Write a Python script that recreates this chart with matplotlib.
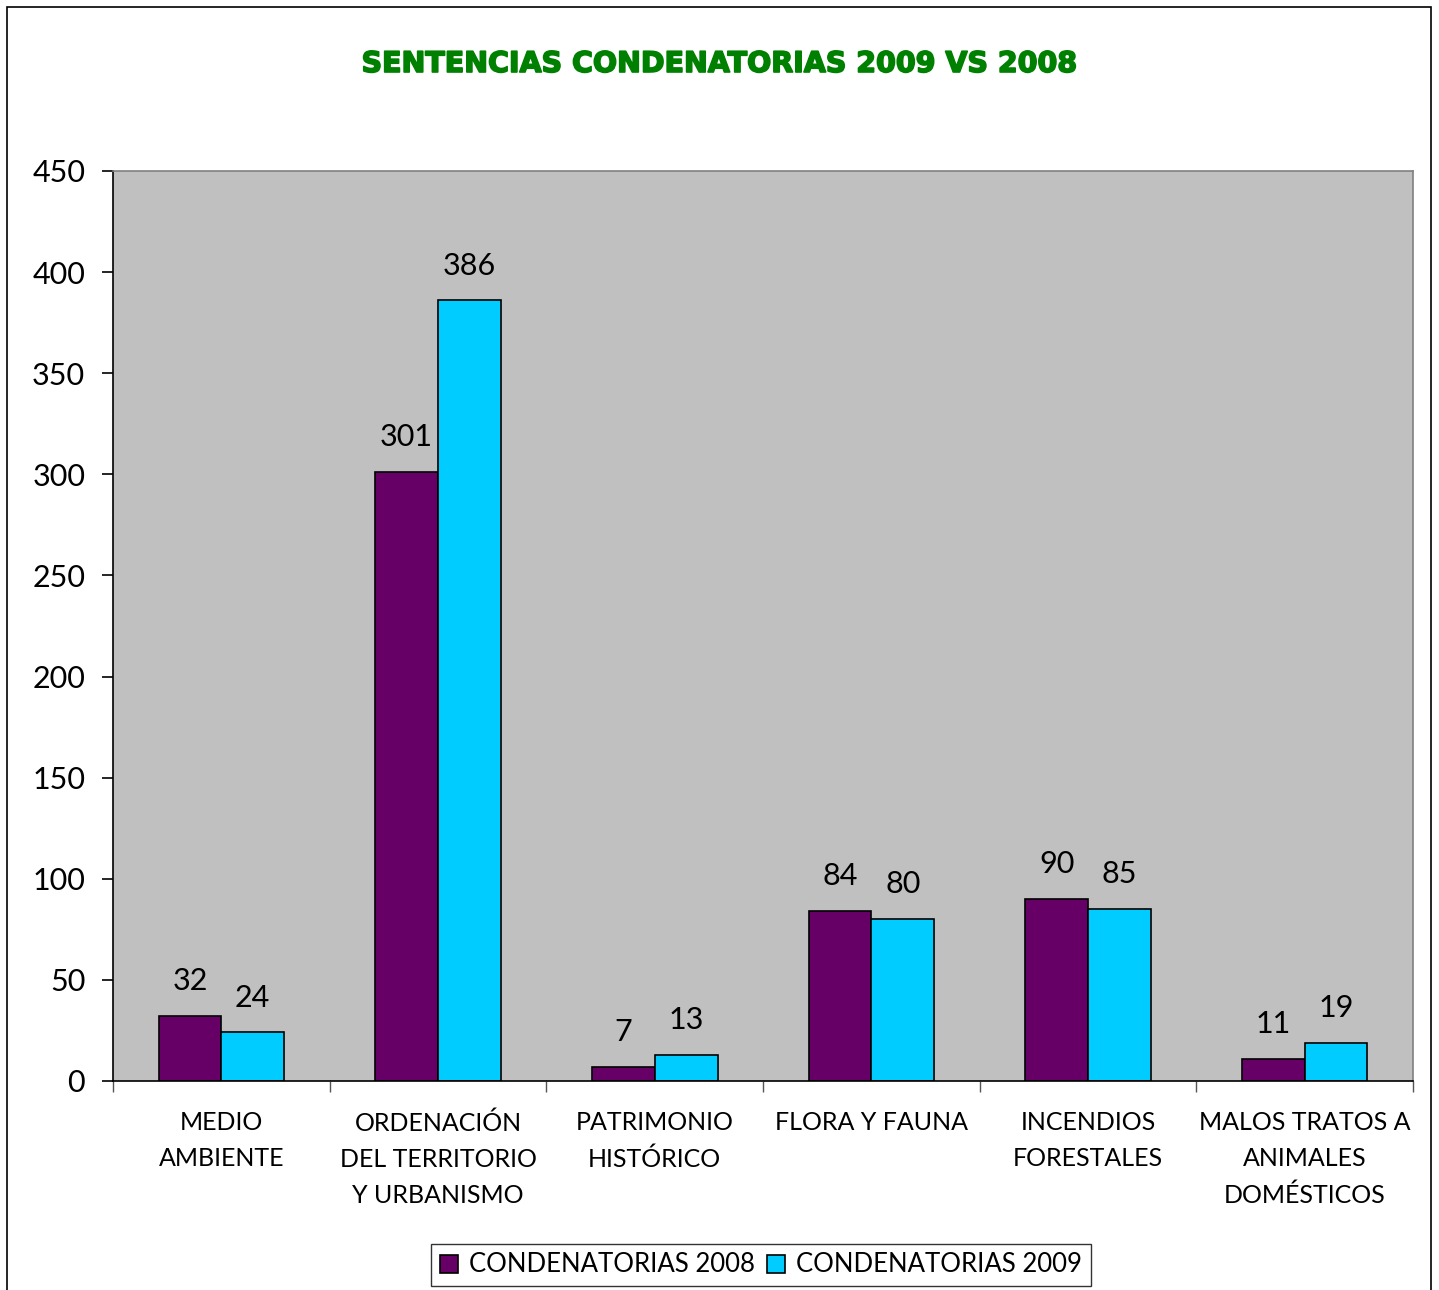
import matplotlib
matplotlib.use("Agg")
import matplotlib.pyplot as plt
from matplotlib.patches import Rectangle
import matplotlib.patheffects as pe
import numpy as np

categories = ["MEDIO\nAMBIENTE", "ORDENACIÓN\nDEL TERRITORIO\nY URBANISMO", "PATRIMONIO\nHISTÓRICO",
              "FLORA Y FAUNA", "INCENDIOS\nFORESTALES", "MALOS TRATOS A\nANIMALES\nDOMÉSTICOS"]
cond_2008 = [32, 301, 7, 84, 90, 11]
cond_2009 = [24, 386, 13, 80, 85, 19]
series_names = ["CONDENATORIAS 2008", "CONDENATORIAS 2009"]
yticks = [0, 50, 100, 150, 200, 250, 300, 350, 400, 450]

plt.rcParams['font.family'] = ['Lato', 'DejaVu Sans']

fig = plt.figure(figsize=(14.39, 12.90), dpi=100)
# outer border
fig.patches.append(Rectangle((7/1439, -0.01), (1431-7)/1439, 1 - 7/1290 + 0.01,
                             transform=fig.transFigure, fill=False, edgecolor='black', lw=1.2))

ax = fig.add_axes([113/1439, 1 - 1081/1290, 1300/1439, 910/1290])
ax.set_facecolor('#C0C0C0')

x = np.arange(len(categories))
w = 0.29
b1 = ax.bar(x - w/2, cond_2008, w, color='#660066', edgecolor='black', lw=1.2, label=series_names[0])
b2 = ax.bar(x + w/2, cond_2009, w, color='#00CCFF', edgecolor='black', lw=1.2, label=series_names[1])

for bars, vals in ((b1, cond_2008), (b2, cond_2009)):
    for r, v in zip(bars, vals):
        ax.annotate(str(v), (r.get_x() + r.get_width()/2, v), xytext=(0, 15), textcoords='offset points',
                    ha='center', va='bottom', fontsize=22)

ax.set_xlim(-0.5, len(categories) - 0.5)
ax.set_ylim(0, 450)
ax.set_yticks(yticks)
ax.tick_params(axis='y', labelsize=22, length=8, width=1.2, pad=12)

ax.set_xticks(np.arange(len(categories) + 1) - 0.5)
ax.set_xticklabels([])
ax.tick_params(axis='x', length=8, width=1.0, color='#555555')
for i, c in enumerate(categories):
    ax.text(i, -0.033, c, transform=ax.get_xaxis_transform(), ha='center', va='top',
            fontsize=18, linespacing=1.7)

for s in ('left', 'bottom'):
    ax.spines[s].set_color('black')
    ax.spines[s].set_linewidth(1.2)
for s in ('top', 'right'):
    ax.spines[s].set_color('#808080')
    ax.spines[s].set_linewidth(1.2)

fig.text(0.5, 1 - 64/1290, "SENTENCIAS CONDENATORIAS 2009 VS 2008", ha='center', va='center',
         fontsize=20.5, fontweight='heavy', color='#008000', family=['DejaVu Sans'],
         path_effects=[pe.withStroke(linewidth=1.2, foreground='#008000')])

leg = fig.legend(loc='center', bbox_to_anchor=(761/1439, 1 - 1265/1290), ncol=2, fontsize=18.5,
                 frameon=True, fancybox=False, edgecolor='black', handlelength=0.7, handleheight=0.7,
                 handletextpad=0.4, columnspacing=0.5, borderpad=0.35)
leg.get_frame().set_linewidth(1.0)

fig.savefig("out.png", dpi=100)
